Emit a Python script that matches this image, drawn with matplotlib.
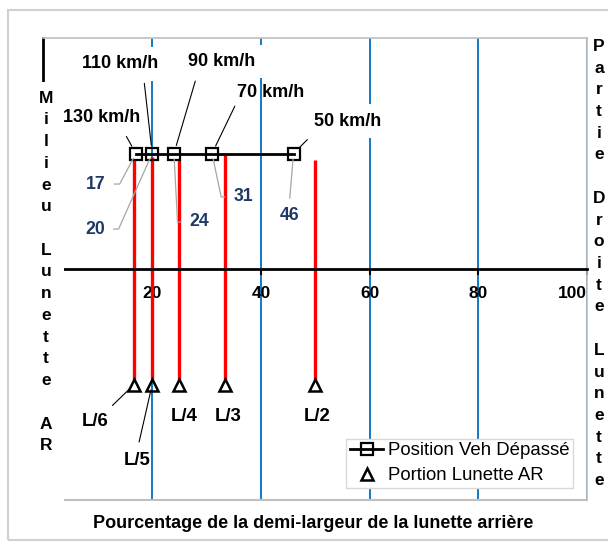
import matplotlib.pyplot as plt
from matplotlib.patches import Rectangle

plt.rcParams['font.family'] = ['Liberation Sans', 'DejaVu Sans']

# Position Veh Dépassé (carrés)
veh_x = [17, 20, 24, 31, 46]
veh_y = [1, 1, 1, 1, 1]
veh_speed = ['130 km/h', '110 km/h', '90 km/h', '70 km/h', '50 km/h']
veh_pct = ['17', '20', '24', '31', '46']

# Portion Lunette AR (triangles) + traits rouges
lun_x = [16.67, 20, 25, 33.33, 50]
lun_y = [-1, -1, -1, -1, -1]
lun_names = ['L/6', 'L/5', 'L/4', 'L/3', 'L/2']
red_bottom = [-0.95, -0.95, -0.95, -0.95, -0.95]
red_top = [0.95, 0.97, 0.94, 1.0, 0.94]

xticks = [20, 40, 60, 80, 100]
xlabel = 'Pourcentage de la demi-largeur de la lunette arrière'
left_txt = 'Milieu Lunette AR'
right_txt = 'Partie Droite Lunette'

# decalages des etiquettes (points)
speed_off = [(-25, 26), (-23, 64.5), (34.6, 66), (42.5, 44), (39, 23.4)]
speed_rel = [(0.75, 0), (0.8, 0), (0.15, 0), (0, 0), (0.05, 0)]
speed_box = [True, True, True, False, True]
pct_off = [(-28.7, -22), (-41, -54.4), (18, -49.3), (22.3, -31.3), (-3.2, -44.3)]
pct_rel = [(1, 0.5), (1, 0.5), (0, 0.5), (0, 0.5), (0.5, 1)]
pct_conn = ['angle,angleA=0,angleB=62,rad=0', 'angle,angleA=0,angleB=66,rad=0',
            'angle,angleA=0,angleB=93,rad=0', 'angle,angleA=0,angleB=102,rad=0', 'arc3']
lun_off = [(-28, -26.7), (-11, -54.4), (3.3, -22.7), (2.4, -22.7), (1.2, -22.7)]
lun_lead = [True, True, False, False, False]
lun_rel = [(0.85, 1), (0.5, 1), (0.5, 1), (0.5, 1), (0.5, 1)]

fig = plt.figure(figsize=(6.08, 5.45), dpi=100)
ax = fig.add_axes([43.5/608, 45/545, 543.5/608, 462/545])
ax.set_xlim(0, 100)
ax.set_ylim(-2, 2)

ax.set_axisbelow(True)
ax.grid(axis='x', color='#0070C0', lw=1.3)
ax.set_xticks(xticks)
ax.xaxis.get_gridlines()[-1].set_visible(False)
ax.set_yticks([])

ax.spines['bottom'].set_position(('data', 0))
ax.spines['bottom'].set_linewidth(2)
ax.spines['left'].set_linewidth(2)
for s in ['top', 'right']:
    ax.spines[s].set_color('#BFBFBF')
    ax.spines[s].set_linewidth(1.2)
ax.axhline(-2, color='#BFBFBF', lw=1.5, clip_on=False)

ax.tick_params(axis='x', direction='out', length=4, width=1.5, pad=8, labelsize=12.5)
for lbl in ax.get_xticklabels():
    lbl.set_fontweight('bold')
ax.get_xticklabels()[-1].set_horizontalalignment('right')

ax.vlines(lun_x, red_bottom, red_top, color='#FF0000', lw=2.4, zorder=2)
ax.plot(veh_x, veh_y, '-s', color='black', lw=2, ms=9, mfc='none', mew=1.6,
        zorder=3, label='Position Veh Dépassé')
ax.plot(lun_x, lun_y, '^', ls='none', ms=9, mfc='none', mec='black', mew=1.8,
        zorder=3, label='Portion Lunette AR')

for i in range(len(veh_x)):
    bb = dict(boxstyle='square,pad=0.45', fc='white', ec='none') if speed_box[i] else None
    ax.annotate(veh_speed[i], (veh_x[i], veh_y[i]), xytext=speed_off[i],
                textcoords='offset points', ha='center', va='center',
                fontsize=13, fontweight='bold', bbox=bb, zorder=4,
                arrowprops=dict(arrowstyle='-', color='black', lw=0.8,
                                shrinkA=2, shrinkB=6, relpos=speed_rel[i]))
    ax.annotate(veh_pct[i], (veh_x[i], veh_y[i]), xytext=pct_off[i],
                textcoords='offset points', ha='center', va='center',
                fontsize=12.7, fontweight='bold', color='#1F3864', zorder=4,
                arrowprops=dict(arrowstyle='-', color='#A6A6A6', lw=0.9,
                                shrinkA=4, shrinkB=4, relpos=pct_rel[i],
                                connectionstyle=pct_conn[i]))

for i in range(len(lun_x)):
    ap = None
    if lun_lead[i]:
        ap = dict(arrowstyle='-', color='black', lw=0.8, shrinkA=5,
                  shrinkB=4, relpos=lun_rel[i])
    ax.annotate(lun_names[i], (lun_x[i], lun_y[i]), xytext=lun_off[i],
                textcoords='offset points', ha='center', va='center',
                fontsize=13.4, fontweight='bold', zorder=4, arrowprops=ap)

ax.legend(loc='lower right', bbox_to_anchor=(0.975, 0.026), fontsize=13.4,
          fancybox=False, edgecolor='#D9D9D9', framealpha=1, borderaxespad=0,
          handlelength=1.8, handletextpad=0.25, labelspacing=0.42, borderpad=0.2,
          numpoints=1)

ax.set_xlabel(xlabel, fontsize=13, fontweight='bold')
ax.xaxis.set_label_coords(0.496, -0.032)

# cadre du graphique
fig.add_artist(Rectangle((8/608, 5/545), 1.2, 530/545, transform=fig.transFigure,
                         fill=False, edgecolor='#D0D0D0', lw=1.5, zorder=1))
# boite blanche du texte de gauche
fig.add_artist(Rectangle((35/608, 42/545), 29/608, 421/545, transform=fig.transFigure,
                         facecolor='white', edgecolor='none', zorder=4))
fig.text(46/608, 1 - 272/545, '\n'.join(left_txt), ha='center', va='center',
         fontsize=12.5, fontweight='bold', linespacing=1.56, zorder=5)
fig.text(599/608, 1 - 263.5/545, '\n'.join(right_txt), ha='center', va='center',
         fontsize=12.5, fontweight='bold', linespacing=1.56, zorder=5)

fig.savefig('out.png', dpi=100)
